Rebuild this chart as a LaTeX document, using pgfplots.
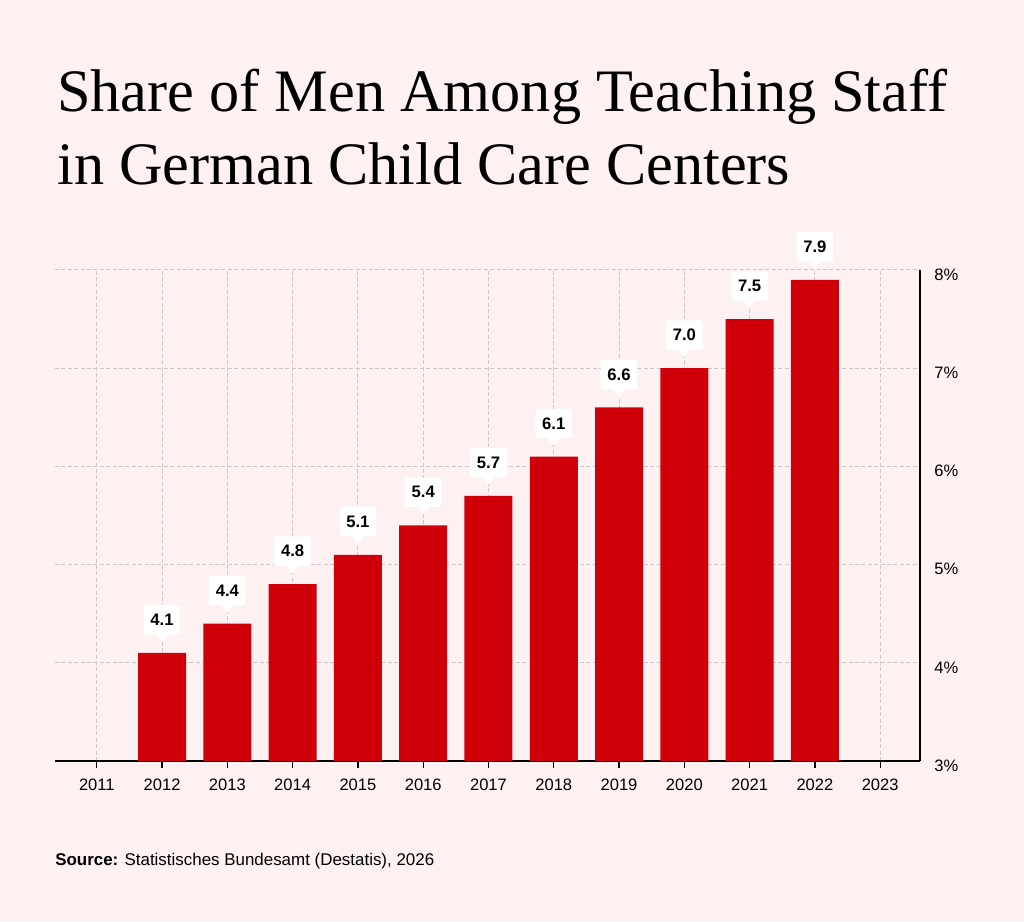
\documentclass[border=0pt]{standalone}
\usepackage{pgfplots}
\pgfplotsset{compat=1.18}
\usepackage{fontspec}
\setmainfont{Liberation Sans}
\newfontfamily\titlefont{Liberation Serif}
\usetikzlibrary{shapes.callouts}
\definecolor{bg}{RGB}{254,241,241}
\definecolor{barred}{RGB}{208,0,11}
\definecolor{gridc}{RGB}{202,200,200}
\begin{document}
\begin{tikzpicture}
\begin{scope}[x=0.75pt,y=0.75pt]
\fill[bg] (0,0) rectangle (1024,921);
\node[anchor=base west, inner sep=0, font=\titlefont\fontsize{45.2}{55}\selectfont] at (57,809) {Share of Men Among Teaching Staff};
\node[anchor=base west, inner sep=0, font=\titlefont\fontsize{45.2}{55}\selectfont] at (57,736) {in German Child Care Centers};
\node[anchor=base west, inner sep=0, font=\fontsize{12.7}{14}\selectfont] at (55,56) {\textbf{Source:} Statistisches Bundesamt (Destatis), 2026};
\end{scope}
\begin{axis}[
  at={(41.25pt,120pt)}, anchor=south west,
  scale only axis, width=648.75pt, height=368.25pt,
  xmin=2010.36, xmax=2023.61, ymin=3, ymax=8,
  separate axis lines,
  axis x line=bottom, axis y line=right,
  axis line style={-, black, line width=1pt},
  xtick={2011,2012,2013,2014,2015,2016,2017,2018,2019,2020,2021,2022,2023},
  xticklabels={2011,2012,2013,2014,2015,2016,2017,2018,2019,2020,2021,2022,2023},
  ytick={3,4,5,6,7,8},
  yticklabels={3\%,4\%,5\%,6\%,7\%,8\%},
  tick align=outside,
  xtick style={black, line width=1pt},
  x tick label style={font=\fontsize{12.4}{13}\selectfont, yshift=-4.5pt},
  y tick label style={font=\fontsize{12.4}{13}\selectfont, yshift=-3.5pt, xshift=2pt},
  major tick length=5.25pt,
  ytick style={draw=none},
  grid=major,
  major grid style={gridc, line width=0.75pt, dash pattern=on 3pt off 1.8pt},
  /pgf/number format/assume math mode=true,
]
\addplot[ybar, bar width=0.735, bar shift=0pt, fill=barred, draw=none,
  nodes near coords={\pgfmathprintnumber[fixed,fixed zerofill,precision=1]{\pgfplotspointmeta}},
  every node near coord/.style={rectangle callout, fill=white, draw=none,
    rounded corners=1.5pt, callout relative pointer={(0pt,-6pt)},
    callout pointer width=9pt,
    minimum width=27.5pt, minimum height=22pt, inner sep=0pt,
    font=\bfseries\fontsize{12.5}{14}\selectfont, text=black},
  every node near coord/.append style={anchor=pointer, yshift=7.5pt},
] coordinates {
(2012,4.1) (2013,4.4) (2014,4.8) (2015,5.1) (2016,5.4) (2017,5.7)
(2018,6.1) (2019,6.6) (2020,7.0) (2021,7.5) (2022,7.9)
};
\end{axis}
\end{tikzpicture}
\end{document}
